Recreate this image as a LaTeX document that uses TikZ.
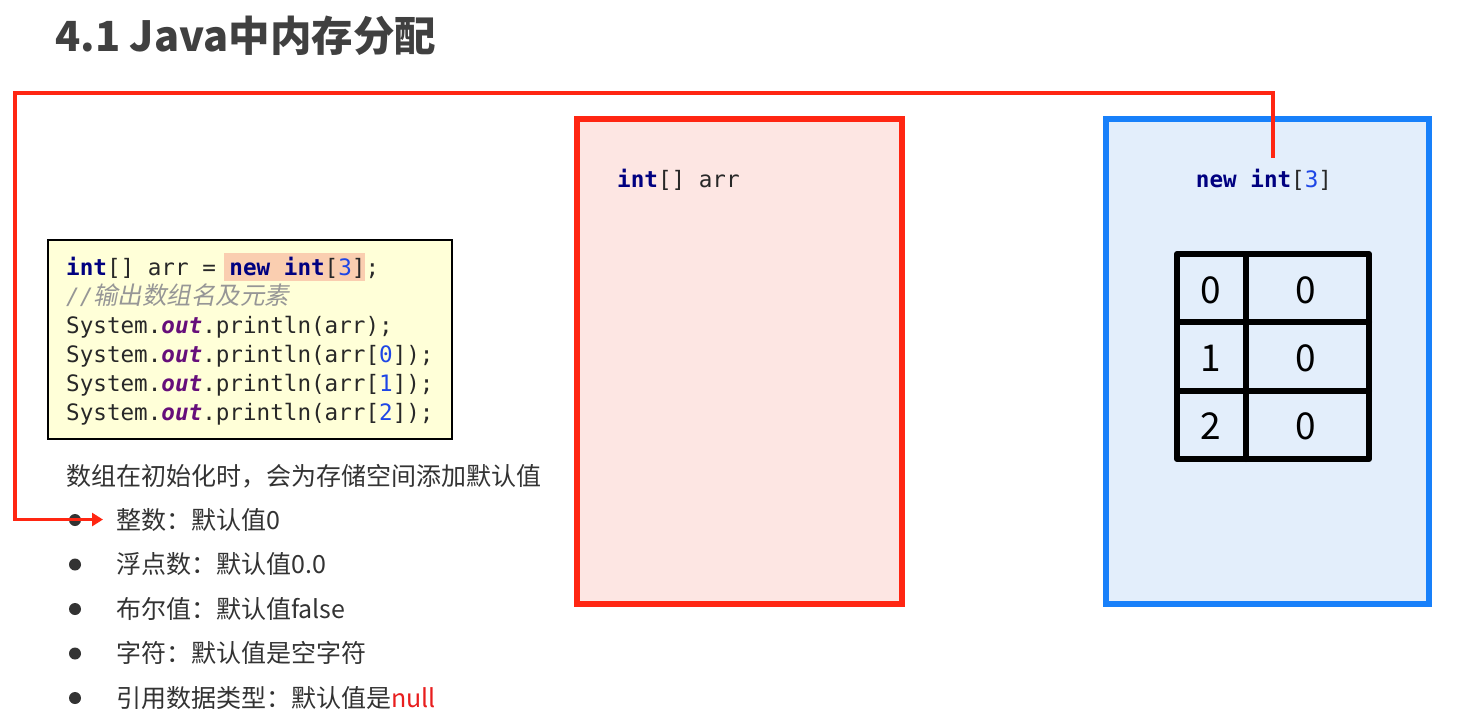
\documentclass[tikz,border=0pt]{standalone}
\usepackage{fontspec}
\usetikzlibrary{arrows.meta}
\setmainfont{Noto Sans CJK SC}
\setmonofont{DejaVu Sans Mono}[ItalicFont={DejaVu Sans Mono Oblique},BoldItalicFont={DejaVu Sans Mono Bold Oblique}]
\newfontfamily\cjk{Noto Sans CJK SC}
\newfontfamily\cjkit{Noto Sans CJK SC}[FakeSlant=0.2]
\definecolor{stackred}{RGB}{255,38,18}
\definecolor{stackpink}{RGB}{253,230,227}
\definecolor{heapblue}{RGB}{24,128,250}
\definecolor{heapfill}{RGB}{227,238,251}
\definecolor{codeyellow}{RGB}{255,255,216}
\definecolor{hlorange}{RGB}{250,206,176}
\definecolor{kwblue}{RGB}{0,0,128}
\definecolor{numblue}{RGB}{30,70,230}
\definecolor{fldpurple}{RGB}{102,14,122}
\definecolor{codegray}{RGB}{40,40,40}
\definecolor{cmtgray}{RGB}{150,150,150}
\definecolor{textgray}{RGB}{51,51,51}
\definecolor{titlegray}{RGB}{64,64,64}
\definecolor{nullred}{RGB}{232,30,30}
\newcommand\codefont{\ttfamily\fontsize{22.6}{29}\selectfont}
\newcommand\kw[1]{\textcolor{kwblue}{\bfseries #1}}
\newcommand\nm[1]{\textcolor{numblue}{#1}}
\newcommand\fld[1]{\textcolor{fldpurple}{\bfseries\itshape #1}}

\begin{document}
\begin{tikzpicture}[x=1pt,y=-1pt,
  mono/.style={font=\codefont, text=codegray, inner sep=0pt},
  listtext/.style={font=\cjk\fontsize{25}{30}\selectfont, text=textgray, inner sep=0pt, anchor=base west},
  cell/.style={font=\cjk\fontsize{37}{40}\selectfont, text=black, inner sep=0pt},
  tablebox/.style={line width=6pt, line join=round, line cap=round},
  link/.style={draw=stackred, line width=3.5pt, -{Triangle[length=11pt,width=13pt]}}]
  %%%%% START %%%%%
  \useasboundingbox[fill=white] (0,0) rectangle (1471,714);

  \node[anchor=base west, font=\cjk\bfseries\fontsize{41.5}{46}\selectfont, text=titlegray, inner sep=0pt] (title) at (55,52) {4.1 Java中内存分配};

  % code
  \node[draw=black, line width=2pt, fill=codeyellow, minimum width=404pt, minimum height=199pt, inner sep=0pt] (codebox) at (250,339.5) {};
  \fill[hlorange] (224,253) rectangle (365,281);
  \node[mono, anchor=base west] (code1) at (66,275) {\kw{int}[] arr = \kw{new} \kw{int}[\nm{3}];};
  \node[mono, anchor=base west, text=cmtgray] (code2) at (66,304) {\itshape//{\cjkit\fontsize{24.5}{29}\selectfont 输出数组名及元素}};
  \node[mono, anchor=base west] (code3) at (66,333) {System.\fld{out}.println(arr);};
  \node[mono, anchor=base west] (code4) at (66,362) {System.\fld{out}.println(arr[\nm{0}]);};
  \node[mono, anchor=base west] (code5) at (66,391) {System.\fld{out}.println(arr[\nm{1}]);};
  \node[mono, anchor=base west] (code6) at (66,420) {System.\fld{out}.println(arr[\nm{2}]);};

  % default values
  \node[listtext] (note) at (66,485) {数组在初始化时，会为存储空间添加默认值};
  \foreach \y in {520,564.5,609,653.5,698}
    \fill[textgray] (75,\y) circle (6);
  \node[listtext] (item1) at (116,529) {整数：默认值0};
  \node[listtext] (item2) at (116,573.5) {浮点数：默认值0.0};
  \node[listtext] (item3) at (116,618) {布尔值：默认值false};
  \node[listtext] (item4) at (116,662.5) {字符：默认值是空字符};
  \node[listtext] (item5) at (116,707) {引用数据类型：默认值是\textcolor{nullred}{null}};

  % stack
  \node[draw=stackred, fill=stackpink, line width=6pt, minimum width=325pt, minimum height=485pt, inner sep=0pt] (stack) at (739.5,361.5) {};
  \node[mono, anchor=base west] (arrvar) at (617,188) {\kw{int}[] arr};

  % heap
  \node[draw=heapblue, fill=heapfill, line width=6pt, minimum width=323pt, minimum height=485pt, inner sep=0pt] (heap) at (1267.5,361.5) {};
  \node[mono, anchor=base] (newarr) at (1264,188) {\kw{new} \kw{int}[\nm{3}]};

  \draw[tablebox] (1177,254) rectangle (1369,459);
  \draw[tablebox] (1246,254) -- (1246,459);
  \draw[tablebox] (1177,322) -- (1369,322);
  \draw[tablebox] (1177,391) -- (1369,391);
  \foreach \i/\y in {0/290,1/358,2/426} {
    \node[cell] (idx\i) at (1211,\y) {\i};
    \node[cell] (val\i) at (1306,\y) {0};
  }

  % reference
  \coordinate (linkstart) at (1273,158);
  \coordinate (bend) at (15,93);
  \draw[link, shorten >=13pt] (linkstart) |- (bend) |- (item1.west);
  %%%%% END %%%%%
\end{tikzpicture}
\end{document}
